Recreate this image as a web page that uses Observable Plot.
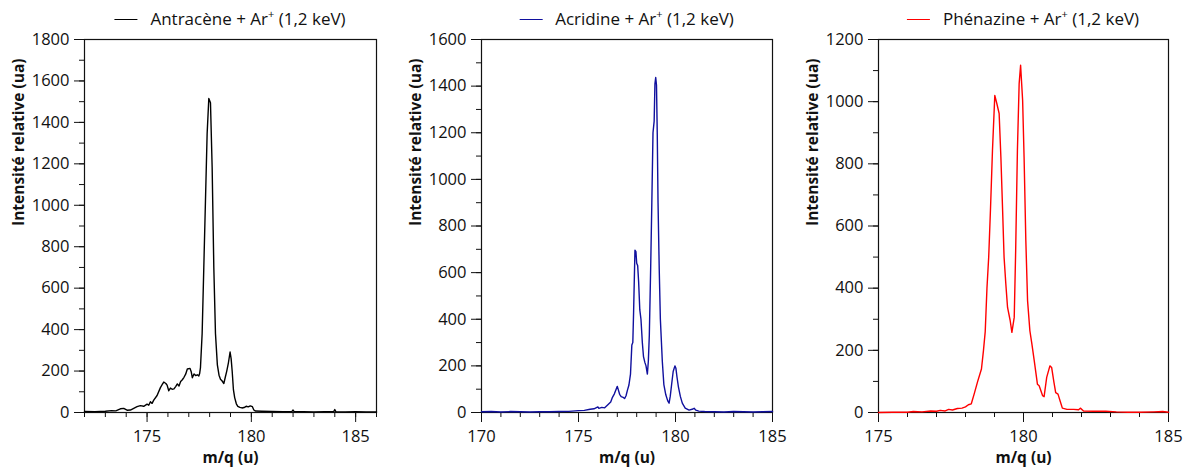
<!DOCTYPE html>
<html><head><meta charset="utf-8">
<script src="https://cdn.jsdelivr.net/npm/d3@7"></script>
<script src="https://cdn.jsdelivr.net/npm/@observablehq/plot@0.6"></script>
<style>
body{margin:0;background:#fff;}
#root{position:relative;width:1183px;height:472px;overflow:hidden;font-family:"Open Sans",sans-serif;}
.panel{position:absolute;top:0;}
.legend{position:absolute;top:7px;display:flex;align-items:center;font-size:17px;color:#111;white-space:nowrap;transform:translateX(-50%);line-height:24px;}
.legend .sw{display:inline-block;width:23px;height:0;border-top:1.4px solid;margin-right:13px;}
.legend sup{font-size:11px;line-height:0;}
</style></head><body><div id="root"></div>
<script>
// ---- Data ----
const yAxisLabel = "Intensité relative (ua)";
const xAxisLabel = "m/q (u)";

const antraceneName = "Antracène";
const antraceneMz = [172.0,172.5,173.0,173.3,173.5,173.72,173.88,174.04,174.2,174.36,174.52,174.68,174.84,175.0,175.08,175.16,175.24,175.32,175.48,175.64,175.72,175.8,175.9,175.96,176.04,176.12,176.2,176.29,176.37,176.45,176.53,176.61,176.69,176.77,176.85,176.93,177.06,177.12,177.17,177.25,177.33,177.41,177.48,177.52,177.56,177.64,177.72,177.8,177.88,177.96,178.04,178.12,178.2,178.28,178.37,178.45,178.52,178.6,178.68,178.75,178.82,178.9,178.98,179.03,179.08,179.14,179.2,179.28,179.35,179.45,179.55,179.65,179.75,179.85,179.95,180.05,180.12,180.2,180.5,181.0,181.5,181.95,182.0,182.05,182.5,183.0,183.5,183.95,184.0,184.05,184.5,185.0,185.5,186.0];
const antraceneI = [5,4,6,9,8,18,20,11,12,20,28,33,30,40,35,52,44,60,82,120,134,147,140,132,105,118,112,114,125,138,128,150,158,170,185,210,213,195,168,186,178,182,176,188,217,380,700,1023,1346,1515,1495,1184,700,380,230,180,160,152,140,170,200,240,292,260,200,110,72,42,30,25,22,24,30,27,32,28,12,7,6,5,4,5,12,4,4,3,4,4,14,4,3,4,3,3];

const acridineName = "Acridine";
const acridineMz = [170.0,170.5,171.0,171.5,172.0,172.5,173.0,173.5,174.0,174.5,175.0,175.3,175.6,175.8,176.0,176.05,176.2,176.35,176.5,176.66,176.75,176.85,176.93,177.0,177.05,177.12,177.2,177.3,177.38,177.45,177.52,177.6,177.68,177.75,177.8,177.84,177.91,177.96,178.0,178.05,178.1,178.16,178.22,178.29,178.35,178.42,178.48,178.55,178.6,178.65,178.72,178.78,178.84,178.9,178.94,178.98,179.02,179.06,179.1,179.16,179.22,179.32,179.4,179.5,179.6,179.67,179.73,179.8,179.88,179.97,180.02,180.08,180.15,180.25,180.35,180.5,180.7,180.9,180.96,181.05,181.2,181.5,182.0,182.5,183.0,183.5,184.0,184.5,185.0];
const acridineI = [3,4,2,4,3,2,3,3,4,5,8,9,14,16,24,18,22,20,32,45,65,80,98,112,98,78,68,65,60,72,95,118,165,290,300,430,696,690,640,630,560,440,400,300,240,215,200,165,220,330,620,900,1200,1250,1410,1437,1405,1195,900,620,400,220,120,76,50,40,70,120,176,200,190,150,110,69,40,19,10,15,18,10,6,4,3,2,4,3,2,3,4];

const phenazineName = "Phénazine";
const phenazineMz = [175.0,175.5,176.0,176.2,176.5,176.8,177.0,177.13,177.3,177.42,177.55,177.72,177.88,178.0,178.1,178.2,178.3,178.42,178.55,178.62,178.68,178.74,178.8,178.86,178.93,179.01,179.08,179.16,179.22,179.28,179.33,179.39,179.45,179.54,179.6,179.68,179.73,179.79,179.85,179.9,179.97,180.02,180.08,180.14,180.22,180.29,180.37,180.48,180.54,180.66,180.71,180.8,180.91,180.97,181.05,181.11,181.19,181.26,181.34,181.5,181.73,181.9,181.96,182.07,182.4,182.84,183.2,183.6,184.0,184.5,184.8,185.0];
const phenazineI = [0,1,1,3,2,5,4,7,5,10,8,13,14,18,25,28,60,100,140,200,260,400,500,650,843,1020,994,962,822,650,500,414,338,296,258,306,521,843,1058,1117,1004,822,554,360,263,220,167,91,86,54,51,113,150,145,97,64,59,38,14,10,10,9,14,5,4,4,2,1,1,2,3,1];

const legendSuffix = " + Ar";
const legendEnergy = " (1,2 keV)";

// ---- Panels ----
const root = document.getElementById("root");
const FONT = "Open Sans";

function panel({left, width, ml, mr, xDomain, yMax, xs, ys, color, name}) {
  const data = xs.map((x, i) => ({x, y: ys[i]}));
  const xMajor = d3.range(Math.ceil(xDomain[0] / 5) * 5, xDomain[1] + 0.001, 5);
  const xMinor = d3.range(xDomain[0], xDomain[1] + 0.001, 1);
  const yMajor = d3.range(0, yMax + 1, 200);
  const yMinor = d3.range(0, yMax + 1, 100);
  const chart = Plot.plot({
    width, height: 472,
    marginLeft: ml, marginRight: mr, marginTop: 39, marginBottom: 60,
    style: {fontFamily: FONT, fontSize: "16.5px", color: "#111", background: "transparent", overflow: "visible"},
    x: {domain: xDomain},
    y: {domain: [0, yMax]},
    marks: [
      Plot.axisX({ticks: xMinor, tickSize: 5, tickFormat: () => "", label: null}),
      Plot.axisX({ticks: xMajor, tickSize: 10, tickPadding: 8, tickFormat: d3.format("d"), label: null}),
      Plot.axisY({ticks: yMinor, tickSize: 5, tickFormat: () => "", label: null}),
      Plot.axisY({ticks: yMajor, tickSize: 10, tickPadding: 5, tickFormat: d3.format("d"), label: null}),
      Plot.frame({stroke: "#111", strokeWidth: 1.2}),
      Plot.line(data, {x: "x", y: "y", stroke: color, strokeWidth: 1.4}),
      Plot.text([yAxisLabel], {frameAnchor: "left", dx: -65, rotate: -90, fontWeight: "bold", fontSize: 15.5, fill: "#111"}),
      Plot.text([xAxisLabel], {frameAnchor: "bottom", dy: 50, fontWeight: "bold", fontSize: 15.5, fill: "#111"})
    ]
  });
  const wrap = document.createElement("div");
  wrap.className = "panel";
  wrap.style.left = left + "px";
  wrap.appendChild(chart);
  root.appendChild(wrap);

  const lg = document.createElement("div");
  lg.className = "legend";
  lg.style.left = (left + ml + (width - ml - mr) / 2) + "px";
  lg.innerHTML = `<span class="sw" style="border-color:${color}"></span><span>${name}${legendSuffix}<sup>+</sup>${legendEnergy}</span>`;
  root.appendChild(lg);
}

panel({left: 0, width: 395, ml: 84, mr: 19, xDomain: [172, 186], yMax: 1800, xs: antraceneMz, ys: antraceneI, color: "#000000", name: antraceneName});
panel({left: 395, width: 395, ml: 86, mr: 18, xDomain: [170, 185], yMax: 1600, xs: acridineMz, ys: acridineI, color: "#10109e", name: acridineName});
panel({left: 790, width: 393, ml: 88, mr: 15, xDomain: [175, 185], yMax: 1200, xs: phenazineMz, ys: phenazineI, color: "#ff0000", name: phenazineName});
</script>
</body></html>
